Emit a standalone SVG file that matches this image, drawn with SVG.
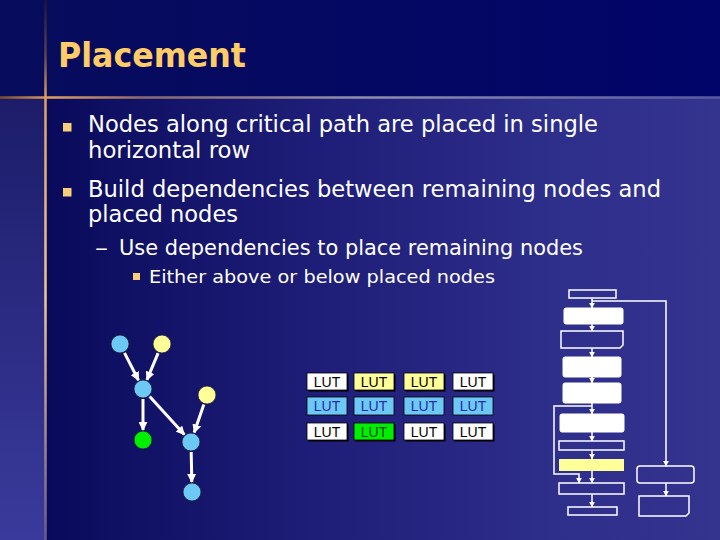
<svg xmlns="http://www.w3.org/2000/svg" width="720" height="540" viewBox="0 0 720 540">
<defs>
<linearGradient id="gMain" x1="47" y1="0" x2="720" y2="0" gradientUnits="userSpaceOnUse">
<stop offset="0" stop-color="#0a0a5c"/>
<stop offset="0.4" stop-color="#1e1e78"/>
<stop offset="0.75" stop-color="#2e2e8b"/>
<stop offset="1" stop-color="#34348f"/>
</linearGradient>
<linearGradient id="gTop" x1="0" y1="0" x2="720" y2="0" gradientUnits="userSpaceOnUse">
<stop offset="0" stop-color="#080c5c"/>
<stop offset="1" stop-color="#010468"/>
</linearGradient>
<linearGradient id="gLeft" x1="0" y1="97" x2="0" y2="540" gradientUnits="userSpaceOnUse">
<stop offset="0" stop-color="#1c1c6a"/>
<stop offset="1" stop-color="#3a3a9c"/>
</linearGradient>
<linearGradient id="gHLine" x1="0" y1="0" x2="720" y2="0" gradientUnits="userSpaceOnUse">
<stop offset="0" stop-color="#7a4a30"/>
<stop offset="0.07" stop-color="#e0a060"/>
<stop offset="0.2" stop-color="#8a6a70"/>
<stop offset="0.5" stop-color="#9090b0"/>
<stop offset="1" stop-color="#5858a0"/>
</linearGradient>
<linearGradient id="gVLine" x1="0" y1="0" x2="0" y2="540" gradientUnits="userSpaceOnUse">
<stop offset="0" stop-color="#1a1440"/>
<stop offset="0.1" stop-color="#5a4050"/>
<stop offset="0.18" stop-color="#e0a060"/>
<stop offset="0.55" stop-color="#f0c890"/>
<stop offset="1" stop-color="#6a5a8a"/>
</linearGradient>
<marker id="ah" viewBox="0 0 10 10" refX="9" refY="5" markerWidth="9" markerHeight="9" markerUnits="userSpaceOnUse" orient="auto">
<path d="M0,0 L10,5 L0,10 z" fill="#ffffff"/>
</marker>
<marker id="as" viewBox="0 0 10 10" refX="9" refY="5" markerWidth="6" markerHeight="6" markerUnits="userSpaceOnUse" orient="auto">
<path d="M0,0 L10,5 L0,10 z" fill="#ffffff"/>
</marker>
</defs>
<style>
.title{font-family:"DejaVu Sans","Liberation Sans",sans-serif;font-weight:bold;font-size:33px;fill:#ffcc66}
.t1{font-family:"DejaVu Sans","Liberation Sans",sans-serif;font-size:23px;fill:#ffffff}
.t2{font-family:"DejaVu Sans","Liberation Sans",sans-serif;font-size:22px;fill:#ffffff}
.t3{font-family:"DejaVu Sans","Liberation Sans",sans-serif;font-size:18px;fill:#ffffff}
.bul{fill:#f8cf78}
.node circle{stroke:#223;stroke-width:0.8}
.blue{fill:#6cc8f4}
.yel{fill:#ffff99}
.grn{fill:#00ee00}
.edge{stroke:#ffffff;stroke-width:3;fill:none;marker-end:url(#ah)}
.lut rect.b{stroke:#000;stroke-width:0.8}
.lut rect.s{fill:#000}
.lut text{font-family:"Liberation Sans",Arial,sans-serif;font-size:14px;text-anchor:middle}
.fl{stroke:#ffffff;stroke-width:1.5;fill:none}
.ff{fill:#ffffff;stroke:#ffffff;stroke-width:1}
.conn{stroke:#ffffff;stroke-width:1.5;fill:none}
.conn .a{marker-end:url(#as)}
</style>
<!-- background -->
<rect x="0" y="0" width="720" height="540" fill="url(#gMain)"/>
<rect x="0" y="0" width="720" height="97" fill="url(#gTop)"/>
<rect x="0" y="97" width="45" height="443" fill="url(#gLeft)"/>
<line x1="0" y1="97.5" x2="720" y2="97.5" stroke="url(#gHLine)" stroke-width="2.5"/>
<line x1="45.5" y1="0" x2="45.5" y2="540" stroke="url(#gVLine)" stroke-width="2.5"/>

<!-- text -->
<text class="title" x="58" y="67" textLength="188" lengthAdjust="spacingAndGlyphs">Placement</text>
<rect class="bul" x="63" y="123" width="8.5" height="8.5"/>
<text class="t1" x="88" y="132" textLength="510" lengthAdjust="spacingAndGlyphs">Nodes along critical path are placed in single</text>
<text class="t1" x="88" y="158" textLength="162" lengthAdjust="spacingAndGlyphs">horizontal row</text>
<rect class="bul" x="63" y="188" width="8.5" height="8.5"/>
<text class="t1" x="88" y="197" textLength="573" lengthAdjust="spacingAndGlyphs">Build dependencies between remaining nodes and</text>
<text class="t1" x="88" y="222" textLength="150" lengthAdjust="spacingAndGlyphs">placed nodes</text>
<text class="t2" x="95" y="255" textLength="13" lengthAdjust="spacingAndGlyphs">–</text>
<text class="t2" x="119" y="255" textLength="464" lengthAdjust="spacingAndGlyphs">Use dependencies to place remaining nodes</text>
<rect class="bul" x="133" y="273" width="7" height="7"/>
<text class="t3" x="149" y="283" textLength="346" lengthAdjust="spacingAndGlyphs">Either above or below placed nodes</text>

<!-- graph connectors -->
<g id="graph-edges">
<line class="edge" x1="124.5" y1="352.9" x2="138.5" y2="380.2"/>
<line class="edge" x1="158.1" y1="353.2" x2="146.9" y2="379.9"/>
<line class="edge" x1="143" y1="399" x2="143" y2="430"/>
<line class="edge" x1="149.7" y1="396.4" x2="184.3" y2="434.6"/>
<line class="edge" x1="203.8" y1="404.5" x2="194.2" y2="432.6"/>
<line class="edge" x1="191.2" y1="452" x2="191.8" y2="482"/>
</g>
<g id="nA" class="node"><circle class="blue" cx="120" cy="344" r="9"/></g>
<g id="nB" class="node"><circle class="yel" cx="162" cy="344" r="9"/></g>
<g id="nC" class="node"><circle class="blue" cx="143" cy="389" r="9"/></g>
<g id="nD" class="node"><circle class="yel" cx="207" cy="395" r="9"/></g>
<g id="nE" class="node"><circle class="grn" cx="143" cy="440" r="9"/></g>
<g id="nF" class="node"><circle class="blue" cx="191" cy="442" r="9"/></g>
<g id="nG" class="node"><circle class="blue" cx="192" cy="492" r="9"/></g>

<!-- LUT grid -->
<g class="lut">
<g id="lut11"><rect class="s" x="308.5" y="374.5" width="40" height="17"/><rect class="b" x="307" y="373" width="40" height="17" fill="#ffffff"/><text x="327" y="387" fill="#000">LUT</text></g>
<g id="lut12"><rect class="s" x="355.5" y="374.5" width="40" height="17"/><rect class="b" x="354" y="373" width="40" height="17" fill="#ffff99"/><text x="374" y="387" fill="#000">LUT</text></g>
<g id="lut13"><rect class="s" x="405.5" y="374.5" width="40" height="17"/><rect class="b" x="404" y="373" width="40" height="17" fill="#ffff99"/><text x="424" y="387" fill="#000">LUT</text></g>
<g id="lut14"><rect class="s" x="454.5" y="374.5" width="40" height="17"/><rect class="b" x="453" y="373" width="40" height="17" fill="#ffffff"/><text x="473" y="387" fill="#000">LUT</text></g>
<g id="lut21"><rect class="b" x="307" y="397" width="40" height="18" fill="#6cc8f4" stroke="none"/><text x="327" y="411" fill="#2a2aa0">LUT</text></g>
<g id="lut22"><rect class="b" x="354" y="397" width="40" height="18" fill="#6cc8f4" stroke="none"/><text x="374" y="411" fill="#2a2aa0">LUT</text></g>
<g id="lut23"><rect class="b" x="404" y="397" width="40" height="18" fill="#6cc8f4" stroke="none"/><text x="424" y="411" fill="#2a2aa0">LUT</text></g>
<g id="lut24"><rect class="b" x="453" y="397" width="40" height="18" fill="#6cc8f4" stroke="none"/><text x="473" y="411" fill="#2a2aa0">LUT</text></g>
<g id="lut31"><rect class="s" x="308.5" y="424.5" width="40" height="17"/><rect class="b" x="307" y="423" width="40" height="17" fill="#ffffff"/><text x="327" y="437" fill="#000">LUT</text></g>
<g id="lut32"><rect class="s" x="355.5" y="424.5" width="40" height="17"/><rect class="b" x="354" y="423" width="40" height="17" fill="#00ee00"/><text x="374" y="437" fill="#0a4a0a">LUT</text></g>
<g id="lut33"><rect class="s" x="405.5" y="424.5" width="40" height="17"/><rect class="b" x="404" y="423" width="40" height="17" fill="#ffffff"/><text x="424" y="437" fill="#000">LUT</text></g>
<g id="lut34"><rect class="s" x="454.5" y="424.5" width="40" height="17"/><rect class="b" x="453" y="423" width="40" height="17" fill="#ffffff"/><text x="473" y="437" fill="#000">LUT</text></g>
</g>

<!-- right structure connectors -->
<g id="flow-connectors" class="conn">
<line class="a" x1="592" y1="298" x2="592" y2="308"/>
<line class="a" x1="592" y1="324" x2="592" y2="331"/>
<line class="a" x1="592" y1="348" x2="592" y2="357"/>
<line class="a" x1="592" y1="377" x2="592" y2="383"/>
<line class="a" x1="592" y1="403" x2="592" y2="414"/>
<line class="a" x1="592" y1="432" x2="592" y2="441"/>
<line class="a" x1="592" y1="450" x2="592" y2="459"/>
<line class="a" x1="592" y1="471" x2="592" y2="483"/>
<line class="a" x1="592" y1="494" x2="592" y2="507"/>
<polyline class="a" points="592,301 666,301 666,466"/>
<line class="a" x1="666" y1="483" x2="666" y2="496"/>
<polyline class="a" points="592,406 554,406 554,474 579,474 579,483"/>
</g>
<g id="f1"><rect class="fl" x="569" y="290" width="47" height="8"/></g>
<g id="f2"><rect class="ff" x="564" y="308" width="59" height="16" rx="2"/></g>
<g id="f3"><path class="fl" d="M561,331 H623 V345 L620,348 H561 Z"/></g>
<g id="f4"><rect class="ff" x="563" y="357" width="58" height="20" rx="2"/></g>
<g id="f5"><rect class="ff" x="563" y="383" width="58" height="20" rx="2"/></g>
<g id="f6"><rect class="ff" x="560" y="414" width="64" height="18" rx="2"/></g>
<g id="f7"><rect class="fl" x="559" y="441" width="65" height="9"/></g>
<g id="f8"><rect x="559" y="459" width="65" height="12" fill="#ffff99"/></g>
<g id="f9"><rect class="fl" x="559" y="483" width="65" height="11"/></g>
<g id="f10"><rect class="fl" x="568" y="507" width="49" height="8"/></g>
<g id="r1"><rect class="fl" x="637" y="466" width="57" height="17" rx="3"/></g>
<g id="r2"><path class="fl" d="M639,496 H689 V513 L686,516 H639 Z"/></g>
</svg>
